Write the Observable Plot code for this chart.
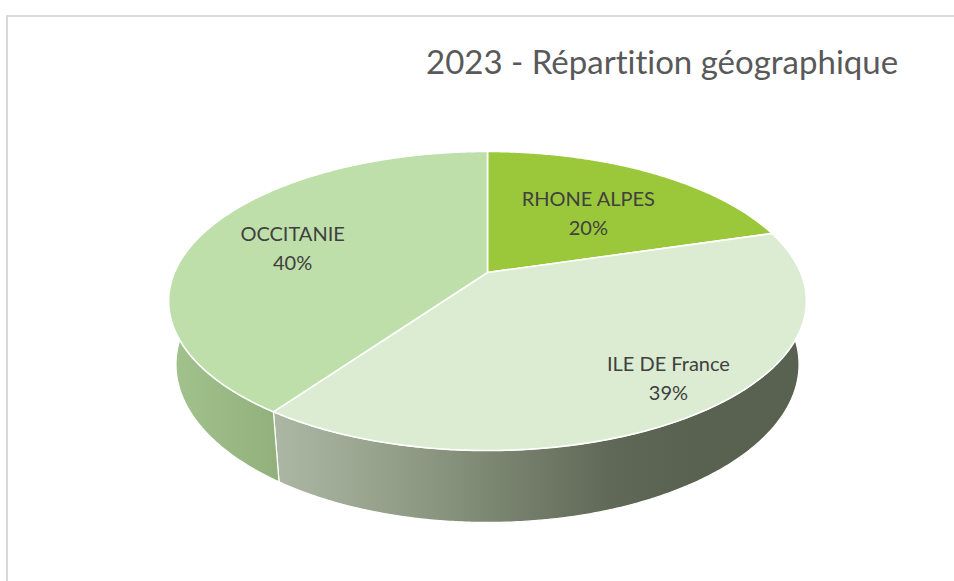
<!DOCTYPE html>
<html>
<head>
<meta charset="utf-8">
<script src="https://cdn.jsdelivr.net/npm/d3@7"></script>
<script src="https://cdn.jsdelivr.net/npm/@observablehq/plot@0.6"></script>
<style>
  body { margin: 0; background: #fff; }
  #wrap { position: relative; width: 954px; height: 581px; overflow: hidden; font-family: Lato, sans-serif;
          font-variant-ligatures: none; }
  #frame { position: absolute; left: 6px; top: 15px; width: 1000px; height: 620px;
           border-left: 2px solid #d9d9d9; border-top: 2px solid #d9d9d9; }
  #plot { position: absolute; left: 0; top: 0; }
  #title { position: absolute; left: 426px; top: 45px; font-size: 33px; line-height: 33px;
           color: #595959; white-space: nowrap; z-index: 2; font-variant-ligatures: none; }
  svg text { font-variant-ligatures: none; }
</style>
</head>
<body>
<div id="wrap">
  <div id="frame"></div>
  <div id="plot"></div>
  <div id="title"></div>
</div>
<script>
// ---- data ----
const title = "2023 - Répartition géographique";
const categories = ["RHONE ALPES", "ILE DE France", "OCCITANIE"];
const values = [20.4, 39.4, 40.2];

// ---- styles ----
const topColors = {"RHONE ALPES": "#9bc83b", "ILE DE France": "#dbecd2", "OCCITANIE": "#bedfa9"};
const sideStops = {
  "RHONE ALPES": [[0, "#86ad33"], [1, "#6f9129"]],
  "ILE DE France": [[0, "#abb7a3"], [0.08, "#a4b09b"], [0.3, "#8a967f"], [0.48, "#737d69"], [0.63, "#606957"], [0.78, "#596150"], [1, "#596150"]],
  "OCCITANIE": [[0, "#a3c38e"], [1, "#91b07c"]]
};
// label placement within each slice: fraction of the slice's angle, and radius
const labelPlace = {"RHONE ALPES": [0.52, 0.565], "ILE DE France": [0.482, 0.82], "OCCITANIE": [0.482, 0.666]};

document.getElementById("title").textContent = title;

// ---- 3D perspective view of a unit disk (u right, v back, z up) ----
const view = {cx: 487, cy: 272, focal: 1458, dist: 4.658, tilt: 27.41 * Math.PI / 180, depth: 0.23};
const sinT = Math.sin(view.tilt), cosT = Math.cos(view.tilt);
const projection = d3.geoTransform({
  point(u, v, z) {
    z = z || 0;
    const d = view.dist + v * cosT - z * sinT;
    this.stream.point(view.cx + view.focal * u / d, view.cy - view.focal * (v * sinT + z * cosT) / d);
  }
});

const total = d3.sum(values);
const arcs = d3.pie().sort(null).value(d => d)(values);

function arcPts(a0, a1, r, z) {
  const n = Math.max(2, Math.ceil(Math.abs(a1 - a0) / (Math.PI / 360)));
  const pts = [];
  for (let i = 0; i <= n; i++) {
    const a = a0 + (a1 - a0) * i / n;
    pts.push([r * Math.sin(a), r * Math.cos(a), z]);
  }
  return pts;
}

const tops = [], sides = [], labels = [];
arcs.forEach((a, i) => {
  const cat = categories[i];
  tops.push({type: "Feature", properties: {fill: topColors[cat]},
    geometry: {type: "Polygon", coordinates: [[[0, 0, 0], ...arcPts(a.startAngle, a.endAngle, 1, 0), [0, 0, 0]]]}});
  const s0 = Math.max(a.startAngle, Math.PI / 2), s1 = Math.min(a.endAngle, 3 * Math.PI / 2);
  if (s1 > s0) {
    const ring = [...arcPts(s0, s1, 1, 0), ...arcPts(s1, s0, 1, -view.depth)];
    ring.push(ring[0]);
    sides.push({type: "Feature", properties: {fill: `url(#side-${i})`},
      geometry: {type: "Polygon", coordinates: [ring]}});
  }
  const [f, r] = labelPlace[cat];
  const ang = a.startAngle + (a.endAngle - a.startAngle) * f;
  labels.push({u: r * Math.sin(ang), v: r * Math.cos(ang),
    text: `${cat}\n${Math.round(values[i] / total * 100)}%`});
});

const chart = Plot.plot({
  width: 954,
  height: 581,
  margin: 0,
  projection,
  color: {type: "identity"},
  style: {background: "transparent", fontFamily: "Lato, sans-serif"},
  marks: [
    Plot.geo(sides, {fill: d => d.properties.fill, stroke: "#ffffff", strokeWidth: 1.2}),
    Plot.geo(tops, {fill: d => d.properties.fill, stroke: "#ffffff", strokeWidth: 1.6, strokeLinejoin: "round"}),
    Plot.text(labels, {x: "u", y: "v", text: "text", fontSize: 20, lineHeight: 1.48, dy: -2.5, fill: "#404040"})
  ]
});

const svg = d3.select(chart);
const defs = svg.insert("defs", ":first-child");
categories.forEach((cat, i) => {
  const g = defs.append("linearGradient").attr("id", `side-${i}`)
    .attr("x1", 0).attr("x2", 1).attr("y1", 0).attr("y2", 0);
  sideStops[cat].forEach(([o, c]) => g.append("stop").attr("offset", o).attr("stop-color", c));
});

document.getElementById("plot").appendChild(chart);
</script>
</body>
</html>
